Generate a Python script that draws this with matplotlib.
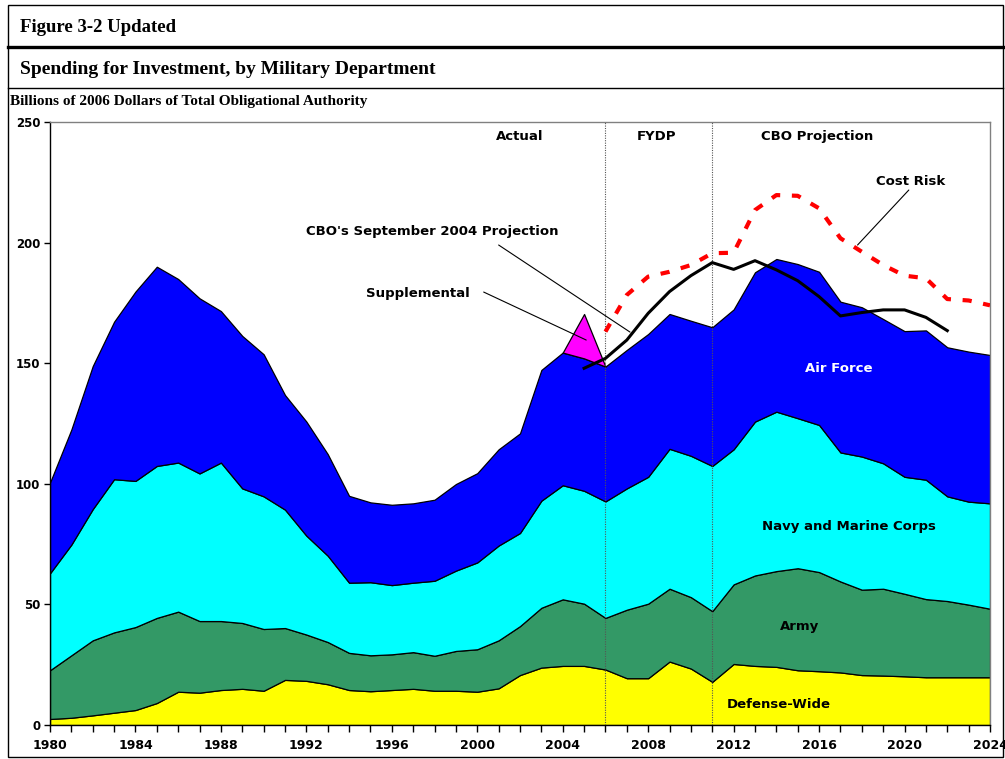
import numpy as np
import matplotlib
matplotlib.use("Agg")
import matplotlib.pyplot as plt
from matplotlib.patches import Rectangle
from matplotlib.lines import Line2D

# data (billions of 2006 dollars)
years = np.arange(1980, 2025)
defense_wide = [2.5, 3.0, 4.0, 5.1, 6.2, 9.1, 13.8, 13.4, 14.5, 15.0, 14.2, 18.7, 18.3, 16.9,
                14.5, 14.0, 14.5, 15.0, 14.2, 14.2, 13.8, 15.2, 20.7, 23.8, 24.5, 24.5, 23.0,
                19.4, 19.4, 26.3, 23.4, 17.9, 25.3, 24.5, 24.1, 22.7, 22.3, 21.8, 20.7, 20.5,
                20.2, 19.8, 19.8, 19.8, 19.8]
army = [20.2, 25.9, 31.1, 33.3, 34.4, 35.3, 33.2, 29.7, 28.6, 27.3, 25.6, 21.5, 19.2, 17.5,
        15.4, 14.9, 14.8, 15.2, 14.5, 16.5, 17.6, 19.9, 20.3, 24.8, 27.6, 25.8, 21.4, 28.4,
        30.9, 30.2, 29.6, 29.3, 33.0, 37.5, 39.7, 42.3, 41.1, 37.7, 35.4, 36.0, 34.2, 32.4,
        31.6, 30.1, 28.4]
navy = [40.2, 45.9, 54.4, 63.5, 60.6, 63.0, 61.8, 61.2, 65.7, 55.8, 55.0, 49.1, 41.0, 35.8,
        29.1, 30.3, 28.7, 28.8, 31.1, 33.3, 36.0, 39.3, 38.6, 44.4, 47.3, 46.8, 48.3, 50.3,
        52.6, 58.0, 58.6, 60.2, 56.0, 63.8, 66.1, 62.2, 61.0, 53.5, 55.2, 52.0, 48.5, 49.5,
        43.4, 42.7, 43.7]
air_force = [37.6, 47.7, 59.3, 65.3, 78.5, 82.6, 76.1, 72.6, 62.8, 63.2, 58.9, 47.5, 47.3,
             42.1, 36.0, 33.1, 33.3, 32.9, 33.6, 35.9, 37.0, 39.9, 41.3, 54.2, 55.0, 54.9,
             55.9, 57.4, 59.2, 55.9, 56.0, 57.5, 58.0, 61.9, 63.3, 63.9, 63.5, 62.5, 61.9,
             59.8, 60.4, 61.9, 61.8, 62.2, 61.5]

supp_years = [2004, 2005, 2006]
supplemental = [0.0, 18.4, 0.0]

risk_years = np.arange(2006, 2025)
cost_risk = [163.1, 178.3, 185.9, 187.9, 190.7, 195.6, 195.8, 213.5, 219.7, 219.4, 214.2,
             201.8, 196.2, 190.7, 186.3, 185.2, 176.6, 176.0, 174.0]

sept_years = np.arange(2005, 2023)
sept_2004 = [147.9, 152.0, 159.6, 170.7, 179.7, 186.3, 191.7, 188.9, 192.5, 188.7, 184.2,
             177.6, 169.6, 171.0, 172.1, 172.1, 169.0, 163.5]

colors = ["#FFFF00", "#339966", "#00FFFF", "#0000FF"]
sans = "DejaVu Sans"
serif = "Liberation Serif"

fig = plt.figure(figsize=(10.05, 7.59), dpi=100)
W, H = 1005, 759

# outer frame and header rules
fig.add_artist(Rectangle((8 / W, 2 / H), 995 / W, 752 / H, transform=fig.transFigure,
                         fill=False, edgecolor="black", linewidth=1.0))
fig.add_artist(Line2D([8 / W, 1003 / W], [1 - 47 / H] * 2, transform=fig.transFigure,
                      color="black", linewidth=2.4))
fig.add_artist(Line2D([8 / W, 1003 / W], [1 - 88 / H] * 2, transform=fig.transFigure,
                      color="black", linewidth=1.0))
fig.text(20 / W, 1 - 28 / H, "Figure 3-2 Updated", family=serif, weight="bold",
         fontsize=13.5, va="center")
fig.text(20 / W, 1 - 69 / H, "Spending for Investment, by Military Department",
         family=serif, weight="bold", fontsize=14, va="center")
fig.text(10 / W, 1 - 102 / H, "Billions of 2006 Dollars of Total Obligational Authority",
         family=serif, weight="bold", fontsize=11, va="center")

ax = fig.add_axes([50 / W, 1 - 725 / H, 940 / W, 603 / H])
ax.stackplot(years, defense_wide, army, navy, air_force, colors=colors,
             edgecolor="black", linewidth=0.9, zorder=2)

af_top = np.cumsum([defense_wide, army, navy, air_force], axis=0)[-1]
base = af_top[np.isin(years, supp_years)]
ax.fill_between(supp_years, base, base + np.array(supplemental), color="#FF00FF",
                edgecolor="black", linewidth=0.9, zorder=2)

ax.plot(risk_years, cost_risk, color="red", linewidth=3, dashes=(2.2, 2.8), zorder=4)
ax.plot(sept_years, sept_2004, color="black", linewidth=2.2, zorder=4)

for x in (2006, 2011):
    ax.axvline(x, color="#555555", linewidth=0.8, linestyle=(0, (1, 1.2)), zorder=3)

ax.set_xlim(1980, 2024)
ax.set_ylim(0, 250)
ax.set_xticks(np.arange(1980, 2025, 4))
ax.set_xticks(np.arange(1980, 2025, 1), minor=True)
ax.set_yticks(np.arange(0, 251, 50))
ax.tick_params(axis="x", which="both", direction="out", length=5, width=1, pad=5)
ax.tick_params(axis="y", direction="out", length=4, width=1, pad=3)
for lab in ax.get_xticklabels():
    lab.set_family(sans); lab.set_weight("bold"); lab.set_fontsize(9)
for lab in ax.get_yticklabels():
    lab.set_family(sans); lab.set_weight("bold"); lab.set_fontsize(8.5)
for s in ("top", "right"):
    ax.spines[s].set_color("#808080")
    ax.spines[s].set_linewidth(1.0)
for s in ("left", "bottom"):
    ax.spines[s].set_linewidth(1.0)

tk = dict(family=sans, weight="bold", fontsize=9.5, ha="center", va="center", zorder=5)
ax.text(2002.0, 243.8, "Actual", **tk)
ax.text(2008.4, 243.8, "FYDP", **tk)
ax.text(2015.9, 243.8, "CBO Projection", **tk)
ax.text(2020.3, 225.3, "Cost Risk", **tk)
ax.text(1997.9, 204.4, "CBO's September 2004 Projection", **tk)
ax.text(1997.2, 179.1, "Supplemental", **tk)
ax.text(2016.9, 147.6, "Air Force", color="white", **tk)
ax.text(2017.4, 82.5, "Navy and Marine Corps", **tk)
ax.text(2015.1, 41.0, "Army", **tk)
ax.text(2014.1, 8.3, "Defense-Wide", **tk)

line = dict(arrowstyle="-", color="black", linewidth=0.8, shrinkA=0, shrinkB=0)
ax.annotate("", xy=(2017.8, 199.0), xytext=(2020.2, 221.8), arrowprops=line, zorder=5)
ax.annotate("", xy=(2007.15, 162.9), xytext=(2001.0, 199.0), arrowprops=line, zorder=5)
ax.annotate("", xy=(2005.1, 159.6), xytext=(2000.3, 179.5), arrowprops=line, zorder=5)

plt.savefig("out.png", dpi=100)
